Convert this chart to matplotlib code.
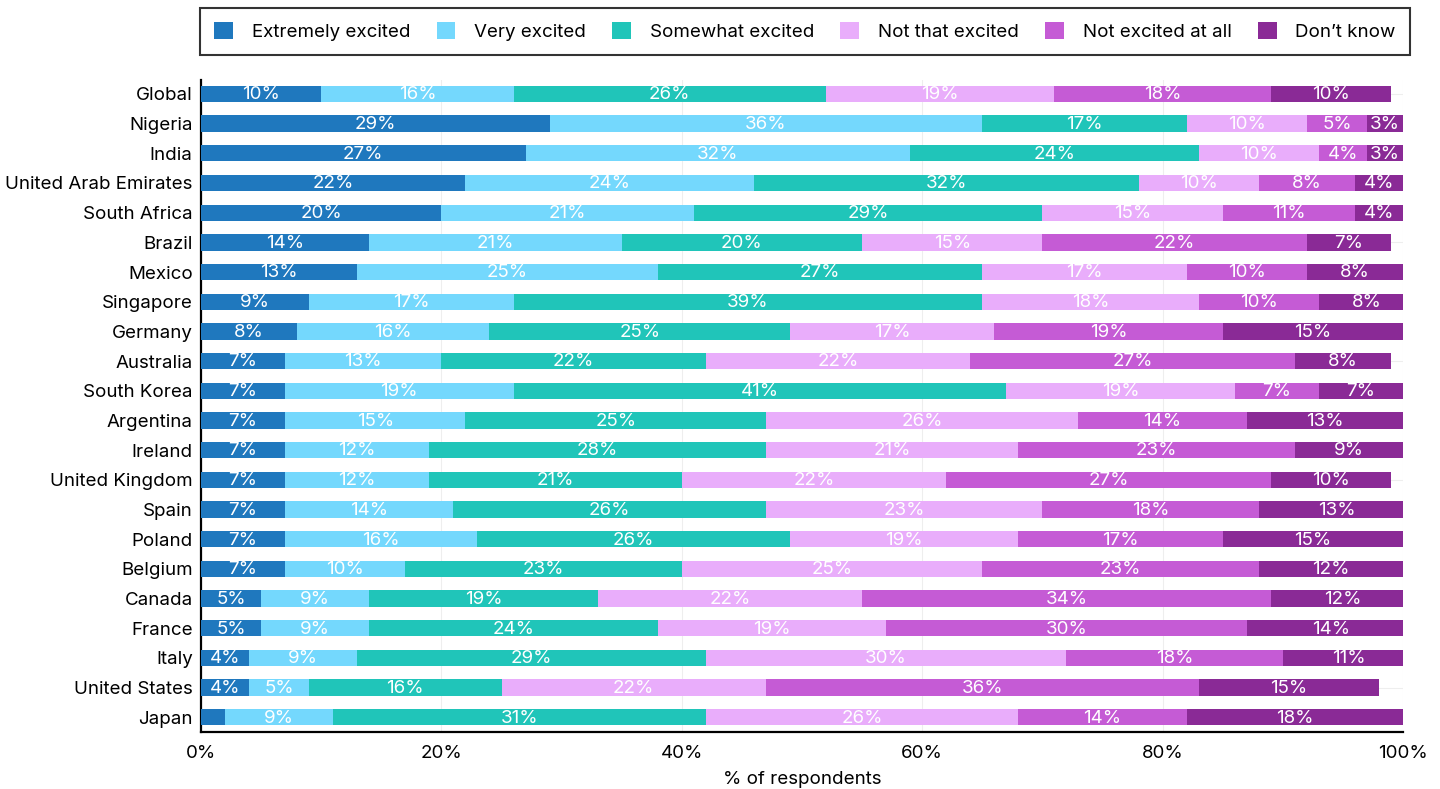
import numpy as np
import matplotlib
matplotlib.use("Agg")
import matplotlib.pyplot as plt
from matplotlib.patches import Patch

plt.rcParams['font.family'] = ['Inter', 'DejaVu Sans']

countries = ['Global', 'Nigeria', 'India', 'United Arab Emirates', 'South Africa',
             'Brazil', 'Mexico', 'Singapore', 'Germany', 'Australia', 'South Korea',
             'Argentina', 'Ireland', 'United Kingdom', 'Spain', 'Poland', 'Belgium',
             'Canada', 'France', 'Italy', 'United States', 'Japan']

categories = ['Extremely excited', 'Very excited', 'Somewhat excited',
              'Not that excited', 'Not excited at all', 'Don\u2019t know']

extremely = [10, 29, 27, 22, 20, 14, 13, 9, 8, 7, 7, 7, 7, 7, 7, 7, 7, 5, 5, 4, 4, 2]
very = [16, 36, 32, 24, 21, 21, 25, 17, 16, 13, 19, 15, 12, 12, 14, 16, 10, 9, 9, 9, 5, 9]
somewhat = [26, 17, 24, 32, 29, 20, 27, 39, 25, 22, 41, 25, 28, 21, 26, 26, 23, 19, 24, 29, 16, 31]
not_that = [19, 10, 10, 10, 15, 15, 17, 18, 17, 22, 19, 26, 21, 22, 23, 19, 25, 22, 19, 30, 22, 26]
not_at_all = [18, 5, 4, 8, 11, 22, 10, 10, 19, 27, 7, 14, 23, 27, 18, 17, 23, 34, 30, 18, 36, 14]
dont_know = [10, 3, 3, 4, 4, 7, 8, 8, 15, 8, 7, 13, 9, 10, 13, 15, 12, 12, 14, 11, 15, 18]

series = [extremely, very, somewhat, not_that, not_at_all, dont_know]
colors = ['#1f78be', '#74d8fd', '#20c5b9', '#e9adfb', '#c55bd5', '#8a2a96']

fig = plt.figure(figsize=(14.4, 7.89), dpi=100)
ax = fig.add_axes([0.1396, 0.0722, 0.8347, 0.8264])

y = np.arange(len(countries))
left = np.zeros(len(countries))
for vals, col in zip(series, colors):
    vals = np.array(vals, dtype=float)
    ax.barh(y, vals, left=left, height=0.55, color=col, edgecolor='none', zorder=3)
    for yi, l, v in zip(y, left, vals):
        if v >= 3 and l + v / 2 < 100:
            ax.text(l + v / 2, yi + 0.03, f'{int(v)}%', ha='center', va='center',
                    color='white', fontsize=13.5, zorder=4)
    left += vals

ax.set_xlim(0, 100)
ax.set_ylim(len(countries) - 0.5, -0.47)
ax.set_yticks(y)
ax.set_yticklabels(countries, fontsize=13.5)
ax.set_xticks(np.arange(0, 101, 20))
ax.set_xticklabels([f'{t}%' for t in range(0, 101, 20)], fontsize=13.5)
ax.tick_params(length=0, pad=6)
ax.tick_params(axis='x', pad=9)
ax.set_xlabel('% of respondents', fontsize=13.5, labelpad=7)

ax.grid(True, axis='both', color='#eeeeee', linewidth=0.8, zorder=0)
for s in ['top', 'right']:
    ax.spines[s].set_visible(False)
for s in ['left', 'bottom']:
    ax.spines[s].set_linewidth(1.6)
    ax.spines[s].set_color('black')

handles = [Patch(facecolor=c, edgecolor='none') for c in colors]
leg = fig.legend(handles, categories, loc='upper left', ncol=6, mode='expand',
                 bbox_to_anchor=(0.139, 0.929, 0.84, 0.061), fontsize=13.5,
                 frameon=True, fancybox=False, handlelength=1.0, handleheight=1.0,
                 handletextpad=1.0, borderaxespad=0, borderpad=0.75, columnspacing=1.5)
leg.get_frame().set_edgecolor('black')
leg.get_frame().set_linewidth(1.5)

fig.savefig('out.png', dpi=100)
